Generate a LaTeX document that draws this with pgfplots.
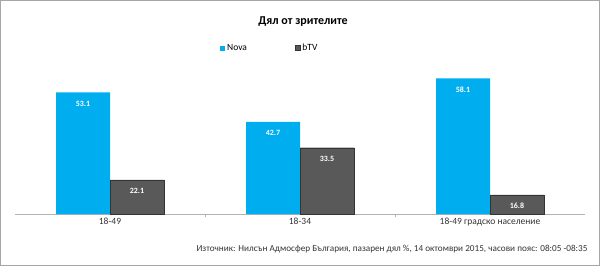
\documentclass[border=0pt]{standalone}
\usepackage{pgfplots}
\pgfplotsset{compat=1.18}
\usepackage{fontspec}
\setmainfont{Carlito}
\definecolor{nova}{HTML}{00AEEF}
\definecolor{btv}{HTML}{595959}
\begin{document}
\begin{tikzpicture}
\draw[gray!70, line width=1pt] (0.5pt,0.5pt) rectangle (599.5pt,265.5pt);
\node[font=\bfseries\fontsize{12}{14}\selectfont] at (303pt,244pt) {Дял от зрителите};
\node[anchor=east, font=\fontsize{9.2}{11}\selectfont, text=black!80] at (591pt,17pt) {Източник: Нилсън Адмосфер България, пазарен дял \%, 14 октомври 2015, часови пояс: 08:05 -08:35};
\begin{axis}[
  at={(15pt,52pt)}, anchor=south west,
  scale only axis, width=570pt, height=141pt,
  ymin=10, ymax=60, xmin=-0.5, xmax=2.5,
  axis x line*=bottom, axis y line=none,
  x axis line style={gray!60, line width=0.8pt},
  xtick={0,1,2},
  xticklabels={18-49,18-34,18-49 градско население},
  major tick length=0pt,
  minor xtick={0.5,1.5}, minor tick length=3pt,
  tick align=outside,
  minor tick style={gray!60},
  ticklabel style={font=\fontsize{9.5}{11}\selectfont, text=black!80},
  ybar=0pt, bar width=54pt,
  clip=false,
  nodes near coords,
  /pgf/number format/fixed, /pgf/number format/precision=1,
  /pgf/number format/assume math mode=true,
  every node near coord/.append style={white, font=\bfseries\fontsize{8}{9}\selectfont, anchor=north, yshift=-5pt},
  legend style={at={(0.447,1.177)}, anchor=center, draw=none, fill=none, legend columns=2,
    /tikz/every even column/.append style={column sep=46pt}, font=\fontsize{9.5}{11}\selectfont},
  legend image code/.code={\fill[#1] (0pt,-2.5pt) rectangle (5pt,2.5pt);},
]
\addplot[fill=nova, draw=none] coordinates {(0,53.1) (1,42.7) (2,58.1)};
\addplot[fill=btv, draw=black!80] coordinates {(0,22.1) (1,33.5) (2,16.8)};
\legend{Nova,bTV}
\end{axis}
\end{tikzpicture}
\end{document}
